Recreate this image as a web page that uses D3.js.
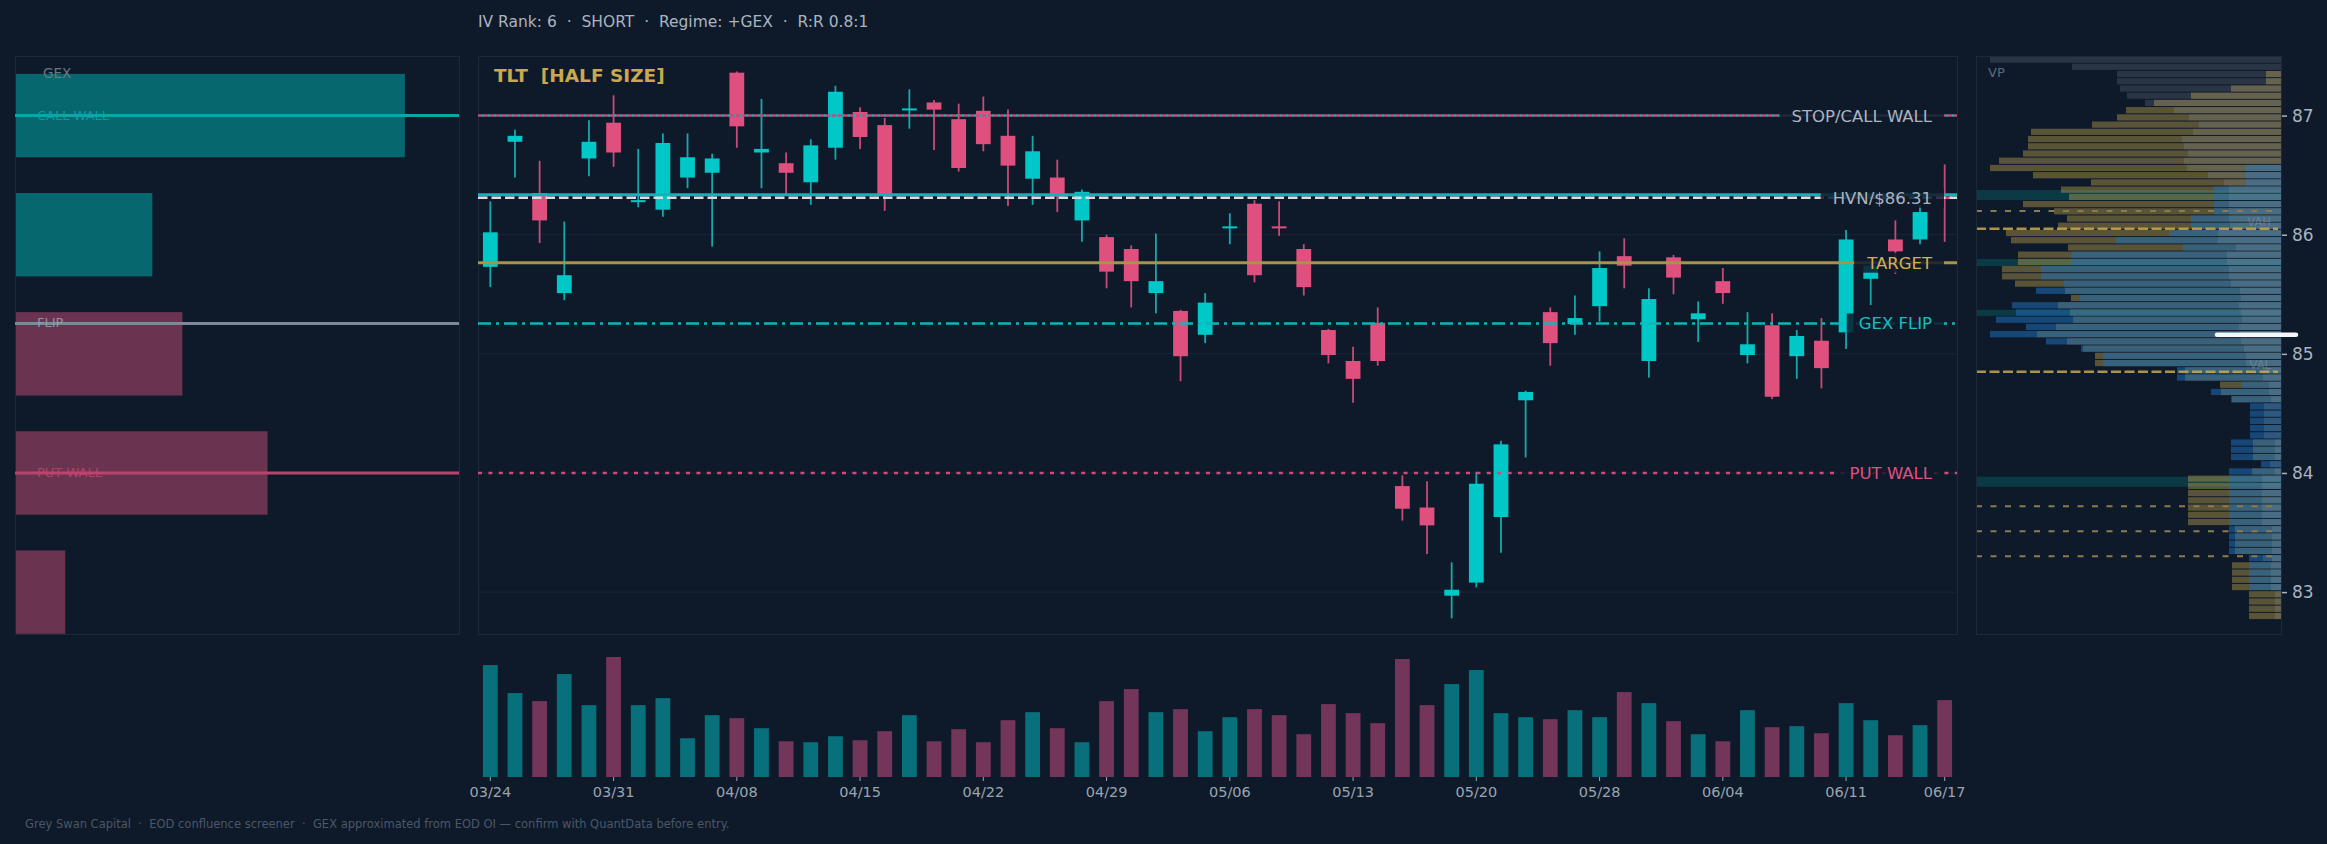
<!DOCTYPE html>
<html>
<head>
<meta charset="utf-8">
<script src="https://cdn.jsdelivr.net/npm/d3@7"></script>
<style>
  body { margin: 0; background: #0e1a2a; }
  svg { display: block; }
  text { font-family: "DejaVu Sans", sans-serif; }
</style>
</head>
<body>
<svg id="chart"></svg>
<script>
// ---- data ----
let dates = ["03/24","03/25","03/26","03/27","03/30","03/31","04/01","04/02","04/06","04/07",
  "04/08","04/09","04/10","04/13","04/14","04/15","04/16","04/17","04/20","04/21",
  "04/22","04/23","04/24","04/27","04/28","04/29","04/30","05/01","05/04","05/05",
  "05/06","05/07","05/08","05/11","05/12","05/13","05/14","05/15","05/18","05/19",
  "05/20","05/21","05/22","05/26","05/27","05/28","05/29","06/01","06/02","06/03",
  "06/04","06/05","06/08","06/09","06/10","06/11","06/12","06/15","06/16","06/17"];
let opens = [85.73,86.78,86.35,85.51,86.64,86.94,86.28,86.21,86.48,86.52,
  87.36,86.69,86.60,86.44,86.73,87.03,86.92,87.05,87.11,86.97,
  87.04,86.83,86.47,86.48,86.12,85.98,85.88,85.51,85.36,85.16,
  86.06,86.26,86.07,85.88,85.20,84.94,85.26,83.89,83.71,82.97,
  83.08,83.63,84.61,85.35,85.25,85.40,85.82,84.94,85.81,85.29,
  85.61,84.99,85.24,84.98,85.11,85.18,85.63,85.96,85.96,86.32];
let highs = [86.28,86.88,86.62,86.11,86.96,87.17,86.72,86.85,86.85,86.68,
  87.37,87.14,86.69,86.80,87.25,87.07,86.98,87.22,87.13,87.10,
  87.16,87.05,86.83,86.63,86.38,86.00,85.91,86.01,85.37,85.51,
  86.18,86.29,86.28,85.92,85.21,85.06,85.39,83.98,83.93,83.25,
  84.01,84.27,84.69,85.39,85.49,85.86,85.97,85.55,85.83,85.44,
  85.72,85.35,85.34,85.20,85.30,86.04,85.76,86.12,86.25,86.59];
let lows = [85.56,86.48,85.93,85.45,86.49,86.57,86.23,86.15,86.39,85.90,
  86.73,86.39,86.34,86.25,86.63,86.72,86.20,86.89,86.71,86.53,
  86.70,86.24,86.25,86.19,85.94,85.55,85.39,85.34,84.77,85.09,
  85.92,85.60,85.99,85.49,84.92,84.59,84.90,83.60,83.32,82.78,
  83.04,83.33,84.13,84.90,85.16,85.27,85.55,84.80,85.50,85.10,
  85.42,84.92,84.62,84.79,84.71,85.04,85.41,85.67,85.92,85.94];
let closes = [86.02,86.83,86.12,85.66,86.78,86.69,86.29,86.77,86.65,86.64,
  86.91,86.72,86.52,86.75,87.20,86.82,86.33,87.06,87.05,86.56,
  86.76,86.58,86.70,86.32,86.36,85.69,85.61,85.61,84.98,85.43,
  86.07,85.66,86.06,85.56,84.99,84.79,84.94,83.70,83.56,83.02,
  83.91,84.24,84.68,85.09,85.30,85.72,85.74,85.46,85.64,85.34,
  85.51,85.08,84.64,85.15,84.88,85.96,85.74,85.86,86.19,86.30];
// volume, millions of shares
let volumes = [33.5,25.1,22.7,30.8,21.5,35.9,21.5,23.6,11.6,18.5,
  17.6,14.6,10.7,10.4,12.2,11.0,13.7,18.5,10.7,14.3,
  10.4,17.0,19.4,14.6,10.4,22.7,26.3,19.4,20.3,13.7,
  17.9,20.3,18.5,12.8,21.8,19.1,16.1,35.3,21.5,27.8,
  32.0,19.1,17.9,17.3,20.0,17.9,25.4,22.1,16.7,12.8,
  10.7,20.0,14.9,15.2,13.1,22.1,17.0,12.5,15.5,23.0];
let tickIdx = [0,5,10,15,20,25,30,35,40,45,50,55,59];
let priceTicks = [83, 84, 85, 86, 87];

let gexStrikes = [87, 86, 85, 84, 83];
let gexValues = [7.9, 2.77, -3.38, -5.11, -1.0];
let gexLevelNames = ["CALL WALL", "FLIP", "PUT WALL"];
let gexLevelPrices = [87.0, 85.255, 84.0];

let levelNames = ["STOP/CALL WALL", "HVN/$86.31", "TARGET", "GEX FLIP", "PUT WALL"];
let levelPrices = [87.0, 86.31, 85.765, 85.255, 84.0];
let hvnNode = 86.335;

// volume profile, rows from the top bin down
let vpTop = 87.496, vpStep = 0.06065;
let vpGold = [0,0,15,15,50,90,127,155,164,189,250,253,253,258,282,291,248,190,220,212,
  258,227,214,223,275,270,213,263,263,279,279,266,216,210,223,211,208,225,244,214,
  198,186,186,96,96,61,60,49,0,0,0,0,0,28,28,28,0,29,93,93,
  93,93,93,93,93,46,46,46,46,9,49,49,49,49,32,32,32,32];
let vpBlue = [0,0,0,0,0,0,0,0,0,0,0,0,0,0,0,35,35,35,67,67,
  67,67,90,90,112,165,98,210,210,240,240,217,245,201,269,265,285,255,291,235,
  200,178,178,104,104,40,70,50,31,31,31,31,31,50,50,50,20,52,52,52,
  52,52,52,52,52,52,52,52,52,32,32,32,32,32,0,0,0,0];
let vpGray = [291,209,164,164,161,154,136,107,92,82,88,99,97,93,97,94,73,57,52,52,
  52,52,52,51,63,63,45,54,54,52,52,50,41,40,42,40,39,42,41,40,
  37,35,35,18,18,12,12,10,17,17,17,17,17,6,6,6,11,6,19,19,
  19,19,19,19,19,9,9,9,9,18,10,10,10,10,6,6,6,6];
let hvnBands = [[86.375, 86.29], [85.796, 85.737], [85.37, 85.318], [83.969, 83.885]];
let vpMinorLines = [86.20, 83.72, 83.51, 83.30];
let vah = 86.05, val = 84.85;
let lastMark = 85.16;

// ---- setup ----
let width = 2327, height = 844;
let svg = d3.select("#chart").attr("width", width).attr("height", height);

let y = d3.scaleLinear().domain([82.64, 87.5]).range([635, 56]);
let x = d3.scaleBand().domain(d3.range(dates.length)).range([478, 1957]);
let bw = x.bandwidth();
let cx = i => x(i) + bw / 2;

let teal = "#00c8c8", pink = "#e0507f";
let border = "#1b2939";

let addText = (g, txt, px, py, size, fill, opts = {}) => {
  let t = g.append("text")
    .attr("x", px).attr("y", py)
    .attr("font-size", size)
    .attr("fill", fill)
    .style("white-space", "pre")
    .text(txt);
  if (opts.anchor) t.attr("text-anchor", opts.anchor);
  if (opts.weight) t.attr("font-weight", opts.weight);
  if (opts.opacity) t.attr("fill-opacity", opts.opacity);
  return t;
};

// header + footer
addText(svg, "IV Rank: 6  \u00b7  SHORT  \u00b7  Regime: +GEX  \u00b7  R:R 0.8:1", 478, 27, 15.5, "#aab4c0");
addText(svg, "Grey Swan Capital  \u00b7  EOD confluence screener  \u00b7  GEX approximated from EOD OI \u2014 confirm with QuantData before entry.",
  25, 828, 11.5, "#4b5767");

// ---- GEX panel ----
let gex = svg.append("g");
gex.append("rect").attr("x", 15.5).attr("y", 56.5).attr("width", 444).attr("height", 578)
  .attr("fill", "none").attr("stroke", border);

let gx = d3.scaleLinear().domain([0, 9.0]).range([16, 459]);
gex.selectAll("rect.gbar")
  .data(gexStrikes)
  .enter()
  .append("rect")
  .attr("class", "gbar")
  .attr("x", gx(0))
  .attr("y", d => y(d + 0.35))
  .attr("width", (d, i) => gx(Math.abs(gexValues[i])) - gx(0))
  .attr("height", d => y(d - 0.35) - y(d + 0.35))
  .attr("fill", (d, i) => gexValues[i] >= 0 ? "#07676f" : "#6a3450");

let gexColors = ["#0aa6a8", "#7e8898", "#b8456e"];
let gexTextColors = ["#0aa6a8", "#9aa3b0", "#c4436e"];
gexLevelPrices.forEach((p, i) => {
  gex.append("line")
    .attr("x1", 15).attr("x2", 459)
    .attr("y1", y(p)).attr("y2", y(p))
    .attr("stroke", gexColors[i]).attr("stroke-width", 3);
  addText(gex, gexLevelNames[i], 37, y(p) + 4, 13, gexTextColors[i], { opacity: 0.85 });
});
addText(gex, "GEX", 43, 78, 13.5, "#6b7785");

// ---- main candle panel ----
let main = svg.append("g");
main.append("rect").attr("x", 478.5).attr("y", 56.5).attr("width", 1479).attr("height", 578)
  .attr("fill", "none").attr("stroke", border);

main.selectAll("line.grid")
  .data(priceTicks)
  .enter()
  .append("line")
  .attr("class", "grid")
  .attr("x1", 478).attr("x2", 1957)
  .attr("y1", d => y(d)).attr("y2", d => y(d))
  .attr("stroke", "#18263a").attr("stroke-width", 1);

// candles
let candles = main.append("g");
let idx = d3.range(dates.length);
let up = i => closes[i] >= opens[i];

candles.selectAll("line.wick")
  .data(idx)
  .enter()
  .append("line")
  .attr("class", "wick")
  .attr("x1", cx).attr("x2", cx)
  .attr("y1", i => y(highs[i])).attr("y2", i => y(lows[i]))
  .attr("stroke", i => up(i) ? "#17a8aa" : "#c94a78")
  .attr("stroke-width", 1.8);

candles.selectAll("rect.body")
  .data(idx)
  .enter()
  .append("rect")
  .attr("class", "body")
  .attr("x", i => cx(i) - bw * 0.3)
  .attr("width", bw * 0.6)
  .attr("y", i => y(Math.max(opens[i], closes[i])))
  .attr("height", i => Math.max(2, Math.abs(y(opens[i]) - y(closes[i]))))
  .attr("fill", i => up(i) ? teal : pink);

// level lines
let lv = main.append("g");
let hline = (p, color, w, dash, offset) => {
  let l = lv.append("line")
    .attr("x1", 478).attr("x2", 1957)
    .attr("y1", y(p)).attr("y2", y(p))
    .attr("stroke", color).attr("stroke-width", w);
  if (dash) l.attr("stroke-dasharray", dash);
  if (offset) l.attr("stroke-dashoffset", offset);
  return l;
};
// stop + call wall share a price
hline(levelPrices[0], "#c94a78", 2.5, "4 2");
hline(levelPrices[0], "#14b4b8", 2.5, "2 4", 2);
// HVN node + HVN level
hline(hvnNode, "#12b2b6", 3);
hline(levelPrices[1], "#d8dde2", 2.5, "9.5 4");
// target
hline(levelPrices[2], "#a8924c", 3);
// gex flip
hline(levelPrices[3], "#12b4b8", 2.5, "13 5 3 5");
// put wall
hline(levelPrices[4], "#d04a7a", 2.5, "4 6.4");

let labelColors = ["#aab4c0", "#aab4c0", "#d4b050", "#14c0c2", "#e0507f"];
levelNames.forEach((name, i) => {
  let g = main.append("g");
  let t = addText(g, name, 1932, y(levelPrices[i]) + 6, 16.5, labelColors[i], { anchor: "end" });
  let bb = t.node().getBBox();
  g.insert("rect", "text")
    .attr("x", bb.x - 12).attr("y", y(levelPrices[i]) - 10)
    .attr("width", 1944 - (bb.x - 12)).attr("height", 20)
    .attr("fill", "#0e1a2a").attr("fill-opacity", 0.85);
});

addText(main, "TLT  [HALF SIZE]", 494, 82, 18.5, "#c9a94e", { weight: "bold" });

// ---- volume ----
let vy = d3.scaleLinear().domain([0, d3.max(volumes)]).range([777, 657]);
svg.append("g").selectAll("rect")
  .data(volumes)
  .enter()
  .append("rect")
  .attr("x", (v, i) => cx(i) - bw * 0.3)
  .attr("width", bw * 0.6)
  .attr("y", v => vy(v))
  .attr("height", v => vy(0) - vy(v))
  .attr("fill", (v, i) => up(i) ? "#07707a" : "#74355a");

let xAxis = d3.axisBottom(x)
  .tickValues(tickIdx)
  .tickFormat(i => dates[i])
  .tickSize(4)
  .tickPadding(6);
let xg = svg.append("g").attr("transform", "translate(0,777)").call(xAxis);
xg.select(".domain").remove();
xg.selectAll("line").attr("stroke", "#9aa4b0");
xg.selectAll("text").attr("fill", "#9aa4b0").attr("font-size", 14.5).attr("font-family", "DejaVu Sans");

// ---- volume profile ----
let vp = svg.append("g");
svg.append("clipPath").attr("id", "vpclip")
  .append("rect").attr("x", 1976).attr("y", 56).attr("width", 305).attr("height", 579);
let vpInner = vp.append("g").attr("clip-path", "url(#vpclip)");
let vx = d3.scaleLinear().domain([0, 305]).range([0, 305]);
let vpRight = 2281;

vpInner.selectAll("rect.hvn")
  .data(hvnBands)
  .enter()
  .append("rect")
  .attr("class", "hvn")
  .attr("x", 1976).attr("width", 305)
  .attr("y", d => y(d[0]))
  .attr("height", d => y(d[1]) - y(d[0]))
  .attr("fill", "#0b3a44");

let rowY = k => y(vpTop - k * vpStep);
let rowH = k => y(vpTop - (k + 1) * vpStep) - y(vpTop - k * vpStep) - 1;
let layers = [
  { data: vpGold, fill: "rgb(212,176,80)", op: 0.38 },
  { data: vpBlue, fill: "rgb(30,110,180)", op: 0.55 },
  { data: vpGray, fill: "rgb(150,160,175)", op: 0.2 }
];
layers.forEach(L => {
  vpInner.append("g").selectAll("rect")
    .data(L.data)
    .enter()
    .append("rect")
    .attr("x", v => vpRight - vx(v))
    .attr("width", v => vx(v))
    .attr("y", (v, k) => rowY(k))
    .attr("height", (v, k) => rowH(k))
    .attr("fill", L.fill)
    .attr("fill-opacity", L.op);
});

vpMinorLines.forEach(p => {
  vp.append("line").attr("x1", 1976).attr("x2", 2278)
    .attr("y1", y(p)).attr("y2", y(p))
    .attr("stroke", "#8c7c4c").attr("stroke-width", 2).attr("stroke-dasharray", "6 8.5");
});
[vah, val].forEach(p => {
  vp.append("line").attr("x1", 1976).attr("x2", 2278)
    .attr("y1", y(p)).attr("y2", y(p))
    .attr("stroke", "#c9a94e").attr("stroke-opacity", 0.85)
    .attr("stroke-width", 2.5).attr("stroke-dasharray", "10 3.5");
});
addText(vp, "VAH", 2271, y(vah) - 3, 11.5, "#8a9aa8", { anchor: "end", opacity: 0.45 });
addText(vp, "VAL", 2271, y(val) - 3, 11.5, "#8a9aa8", { anchor: "end", opacity: 0.45 });

vp.append("rect").attr("x", 1976.5).attr("y", 56.5).attr("width", 305).attr("height", 578)
  .attr("fill", "none").attr("stroke", border);
addText(vp, "VP", 1988, 77, 13, "#5d6977");

vp.append("line").attr("x1", 2217).attr("x2", 2296)
  .attr("y1", y(lastMark)).attr("y2", y(lastMark))
  .attr("stroke", "#f4f6f8").attr("stroke-width", 4.5).attr("stroke-linecap", "round");

// right price axis
let yAxis = d3.axisRight(y).tickValues(priceTicks).tickFormat(d3.format("d")).tickSize(5).tickPadding(5);
let yg = svg.append("g").attr("transform", "translate(2282,0)").call(yAxis);
yg.select(".domain").remove();
yg.selectAll("line").attr("stroke", "#aab4c0").attr("stroke-width", 1.5);
yg.selectAll("text").attr("fill", "#aab4c0").attr("font-size", 17).attr("font-family", "DejaVu Sans");
</script>
</body>
</html>
